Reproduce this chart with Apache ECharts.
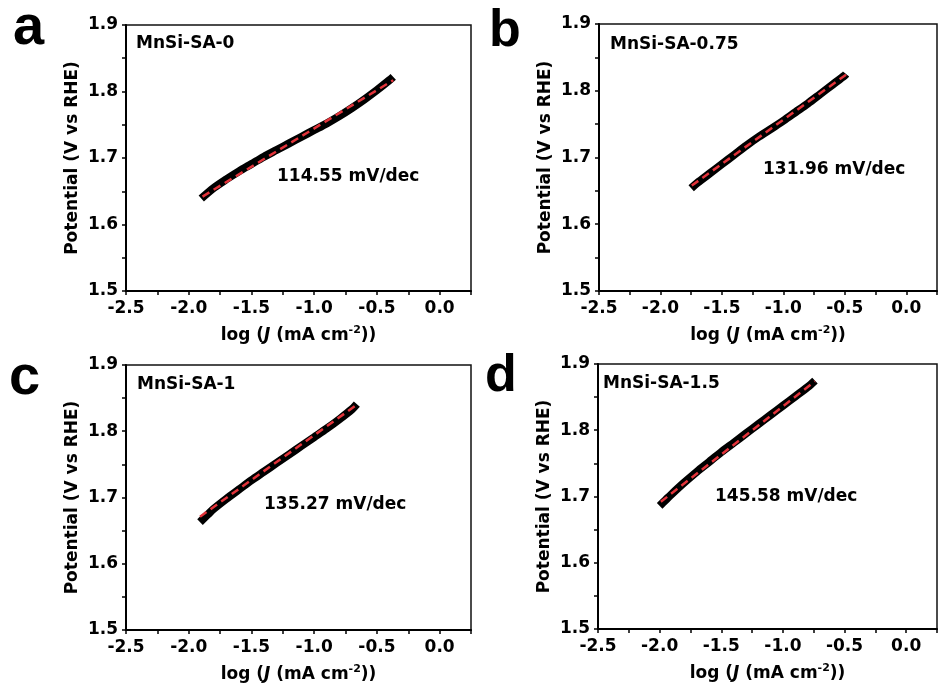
<!DOCTYPE html>
<html>
<head>
<meta charset="utf-8">
<script src="https://cdn.jsdelivr.net/npm/echarts@6/dist/echarts.min.js"></script>
<style>
  html, body { margin: 0; padding: 0; background: #fff; }
  #chart { width: 940px; height: 691px; }
</style>
</head>
<body>
<div id="chart"></div>
<script>
// tick labels shared by all four panels
const xTickLabels = ['-2.5', '-2.0', '-1.5', '-1.0', '-0.5', '0.0'];
const yTickLabels = ['1.5', '1.6', '1.7', '1.8', '1.9'];

const panelLetters = ['a', 'b', 'c', 'd'];
const sampleNames = ['MnSi-SA-0', 'MnSi-SA-0.75', 'MnSi-SA-1', 'MnSi-SA-1.5'];
const tafelSlopes = ['114.55 mV/dec', '131.96 mV/dec', '135.27 mV/dec', '145.58 mV/dec'];

// measured curves: log J and potential (V vs RHE)
const logJ_a = [-1.90, -1.80, -1.70, -1.60, -1.50, -1.40, -1.30, -1.20, -1.10, -1.00, -0.90, -0.80, -0.70, -0.60, -0.50, -0.40, -0.37];
const E_a    = [1.639, 1.655, 1.668, 1.680, 1.691, 1.702, 1.712, 1.722, 1.732, 1.742, 1.752, 1.763, 1.775, 1.788, 1.802, 1.817, 1.822];
const logJ_b = [-1.75, -1.70, -1.60, -1.50, -1.40, -1.30, -1.20, -1.10, -1.00, -0.90, -0.80, -0.70, -0.60, -0.50, -0.49];
const E_b    = [1.654, 1.662, 1.676, 1.690, 1.704, 1.718, 1.731, 1.743, 1.755, 1.768, 1.781, 1.795, 1.809, 1.823, 1.825];
const logJ_c = [-1.91, -1.85, -1.80, -1.70, -1.60, -1.50, -1.40, -1.30, -1.20, -1.10, -1.00, -0.90, -0.80, -0.70, -0.66];
const E_c    = [1.663, 1.674, 1.683, 1.698, 1.712, 1.726, 1.739, 1.752, 1.765, 1.778, 1.791, 1.804, 1.818, 1.833, 1.841];
const logJ_d = [-2.00, -1.95, -1.90, -1.80, -1.70, -1.60, -1.50, -1.40, -1.30, -1.20, -1.10, -1.00, -0.90, -0.80, -0.74];
const E_d    = [1.686, 1.695, 1.704, 1.721, 1.737, 1.752, 1.767, 1.781, 1.795, 1.809, 1.823, 1.837, 1.851, 1.865, 1.875];

// linear Tafel fits (end points)
const fitX_a = [-1.89, -0.37];  const fitE_a = [1.642, 1.817];
const fitX_b = [-1.745, -0.49]; const fitE_b = [1.658, 1.824];
const fitX_c = [-1.91, -0.66];  const fitE_c = [1.671, 1.840];
const fitX_d = [-1.99, -0.74];  const fitE_d = [1.692, 1.874];

const curves = [[logJ_a, E_a], [logJ_b, E_b], [logJ_c, E_c], [logJ_d, E_d]];
const fits = [[fitX_a, fitE_a], [fitX_b, fitE_b], [fitX_c, fitE_c], [fitX_d, fitE_d]];

const FONT = 'DejaVu Sans';
const zip = (xs, ys) => xs.map((x, i) => [x, ys[i]]);
const pick = (labels, v) => labels.find(t => Math.abs(parseFloat(t) - v) < 1e-6) || '';

// plot boxes
const grids = [
  { left: 126, top: 25, width: 345, height: 266 },
  { left: 599, top: 24, width: 345, height: 267 },
  { left: 126, top: 365, width: 345, height: 265 },
  { left: 598, top: 364, width: 346, height: 265 }
];

let option = {
  backgroundColor: '#fff',
  animation: false,
  grid: grids.map(g => Object.assign({ show: true, borderColor: '#111', borderWidth: 1.5 }, g)),
  xAxis: grids.map((g, i) => ({
    gridIndex: i,
    type: 'value',
    min: -2.5,
    max: 0.25,
    interval: 0.25,
    name: '{t|log (}{i|J}{t| (mA cm}{s|-2}{t|))}',
    nameLocation: 'middle',
    nameGap: 34,
    nameTextStyle: {
      verticalAlign: 'top',
      rich: {
        t: { fontFamily: FONT, fontWeight: 'bold', fontSize: 17, color: '#000', lineHeight: 22 },
        i: { fontFamily: FONT, fontWeight: 'bold', fontStyle: 'italic', fontSize: 17, color: '#000', lineHeight: 22 },
        s: { fontFamily: FONT, fontWeight: 'bold', fontSize: 11, color: '#000', verticalAlign: 'top', lineHeight: 22, padding: [0, 0, 10, 0] }
      }
    },
    axisLine: { show: true, onZero: false, lineStyle: { color: '#000', width: 2 } },
    axisTick: { show: true, inside: false, length: 4, lineStyle: { color: '#000', width: 1.5 } },
    axisLabel: {
      margin: 9,
      color: '#000', fontFamily: FONT, fontWeight: 'bold', fontSize: 17,
      formatter: v => pick(xTickLabels, v)
    },
    splitLine: { show: false }
  })),
  yAxis: grids.map((g, i) => ({
    gridIndex: i,
    type: 'value',
    min: 1.5,
    max: 1.9,
    interval: 0.05,
    name: 'Potential (V vs RHE)',
    nameLocation: 'middle',
    nameGap: 45,
    nameTextStyle: { fontFamily: FONT, fontWeight: 'bold', fontSize: 17, color: '#000' },
    axisLine: { show: true, onZero: false, lineStyle: { color: '#000', width: 2 } },
    axisTick: { show: true, inside: false, length: 4, lineStyle: { color: '#000', width: 1.5 } },
    axisLabel: {
      margin: 8,
      color: '#000', fontFamily: FONT, fontWeight: 'bold', fontSize: 17,
      formatter: v => pick(yTickLabels, v)
    },
    splitLine: { show: false }
  })),
  series: [],
  graphic: []
};

curves.forEach((c, i) => {
  option.series.push({
    type: 'line',
    xAxisIndex: i, yAxisIndex: i,
    data: zip(c[0], c[1]),
    showSymbol: false,
    smooth: 0.3,
    lineStyle: { color: '#000', width: 8, cap: 'butt', join: 'round' },
    z: 2
  });
  option.series.push({
    type: 'line',
    xAxisIndex: i, yAxisIndex: i,
    data: zip(fits[i][0], fits[i][1]),
    showSymbol: false,
    lineStyle: { color: '#e2333a', width: 2.5, type: [8, 5] },
    z: 3
  });
});

// panel letters, sample names and slopes
const letterPos = [[13, 29, 56], [489, 32, 52], [9, 379, 56], [485, 377, 52]];
const namePos = [[136, 44], [610, 45], [137, 385], [603, 384]];
const slopePos = [[277, 177], [763, 170], [264, 505], [715, 497]];

panelLetters.forEach((l, i) => {
  option.graphic.push({
    type: 'text', left: letterPos[i][0], top: letterPos[i][1] - letterPos[i][2] / 2,
    style: { text: l, font: 'bold ' + letterPos[i][2] + 'px "Liberation Sans"', fill: '#000' }
  });
  option.graphic.push({
    type: 'text', x: namePos[i][0], y: namePos[i][1],
    style: { text: sampleNames[i], font: 'bold 17px "' + FONT + '"', fill: '#000', verticalAlign: 'middle' }
  });
  option.graphic.push({
    type: 'text', x: slopePos[i][0], y: slopePos[i][1],
    style: { text: tafelSlopes[i], font: 'bold 17px "' + FONT + '"', fill: '#000', verticalAlign: 'middle' }
  });
});

let myChart = echarts.init(document.getElementById('chart'));
myChart.setOption(option);
</script>
</body>
</html>
